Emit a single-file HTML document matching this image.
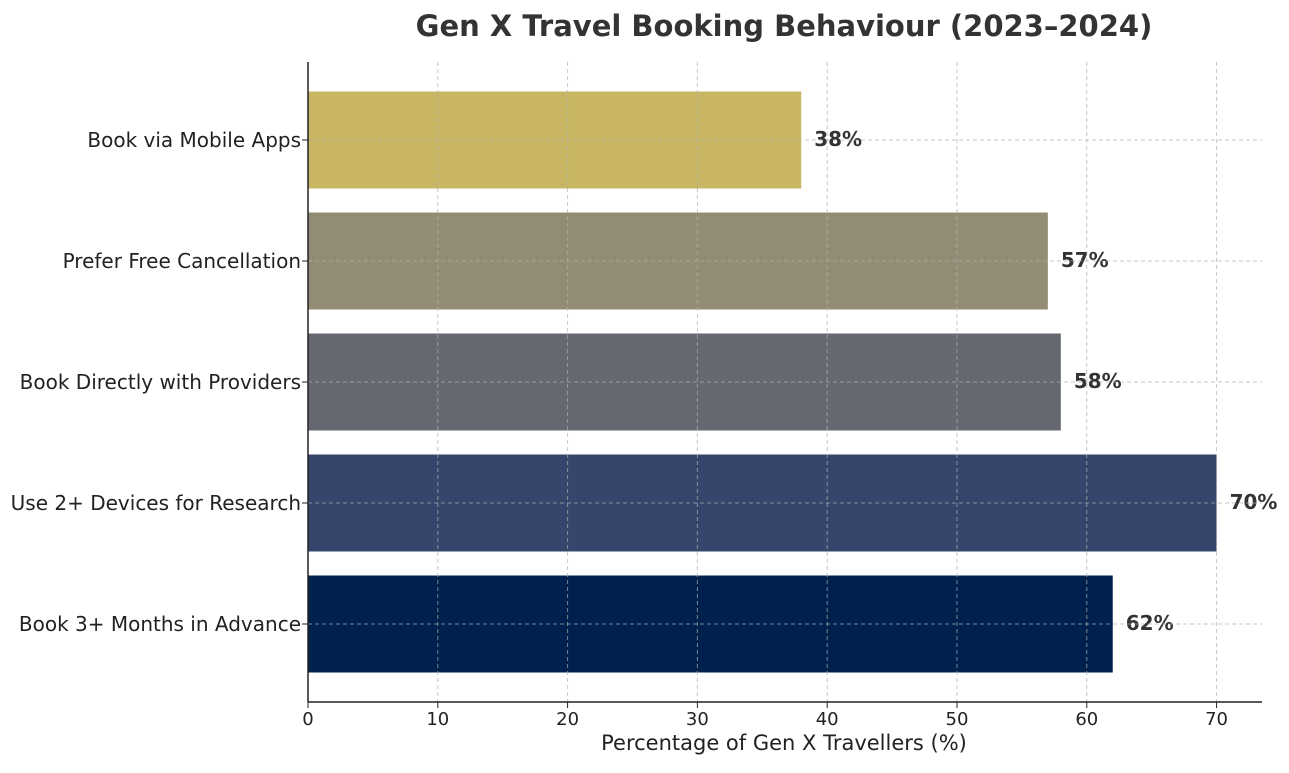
<!DOCTYPE html>
<html><head><meta charset="utf-8"><style>
body{margin:0;background:#fff;}
svg text{font-family:"DejaVu Sans","Liberation Sans",sans-serif;}
</style></head><body>
<svg id="chart" width="1289" height="768" xmlns="http://www.w3.org/2000/svg">
<text x="784" y="36" text-anchor="middle" font-size="29" font-weight="bold" fill="#333">Gen X Travel Booking Behaviour (2023–2024)</text>
<g id="bars"></g><g id="grid"></g><g id="axes"></g>
<text x="784" y="750" text-anchor="middle" font-size="21" fill="#222">Percentage of Gen X Travellers (%)</text>
</svg>
<script>
const categories=["Book via Mobile Apps","Prefer Free Cancellation","Book Directly with Providers","Use 2+ Devices for Research","Book 3+ Months in Advance"];
const values=[38,57,58,70,62];
const colors=["#C8B664","#938C74","#656870","#36456B","#00214D"];
const xTicks=[0,10,20,30,40,50,60,70];
const NS="http://www.w3.org/2000/svg";
const X0=308,XMAX=73.5,XR=1262,YT=62,YB=702;
const xs=v=>X0+v*(XR-X0)/XMAX;
const band=121;
const yc=i=>140+band*i;
const bh=97;
function mk(t,a,p){const e=document.createElementNS(NS,t);for(const k in a)e.setAttribute(k,a[k]);p.appendChild(e);return e;}
const bars=document.getElementById('bars'),grid=document.getElementById('grid'),axes=document.getElementById('axes');
categories.forEach((c,i)=>{
 const r=mk('rect',{x:X0,y:yc(i)-bh/2,width:xs(values[i])-X0,height:bh,fill:colors[i]},bars);
 
 
 const t=mk('text',{x:xs(values[i])+13,y:yc(i)+6,'font-size':20,'font-weight':'bold',fill:'#333'},bars);
 t.textContent=values[i]+'%';
 
 
 const l=mk('text',{x:301,y:yc(i)+7,'text-anchor':'end','font-size':20,fill:'#222'},axes);
 l.textContent=c;
 
 
 const g=mk('line',{x1:X0,x2:XR,y1:yc(i),y2:yc(i),stroke:'#b0b0b0','stroke-dasharray':'4,3','stroke-width':1,opacity:0.7},grid);
 
 
 mk('line',{x1:X0-6,x2:X0,y1:yc(i),y2:yc(i),stroke:'#222'},axes);
});
xTicks.forEach(v=>{
 const g=mk('line',{x1:xs(v),x2:xs(v),y1:YT,y2:YB,stroke:'#b0b0b0','stroke-dasharray':'4,3',opacity:0.7},grid);
 
 
 mk('line',{x1:xs(v),x2:xs(v),y1:YB,y2:YB+6,stroke:'#222'},axes);
 const t=mk('text',{x:xs(v),y:YB+23,'text-anchor':'middle','font-size':18,fill:'#222'},axes);
 t.textContent=v;
 
 
});
const ya=mk('line',{x1:X0,x2:X0,y1:YT,y2:YB,stroke:'#222','stroke-width':1.5},axes);


const xa=mk('line',{x1:X0,x2:XR,y1:YB,y2:YB,stroke:'#222','stroke-width':1.5},axes);


</script>
</body></html>
